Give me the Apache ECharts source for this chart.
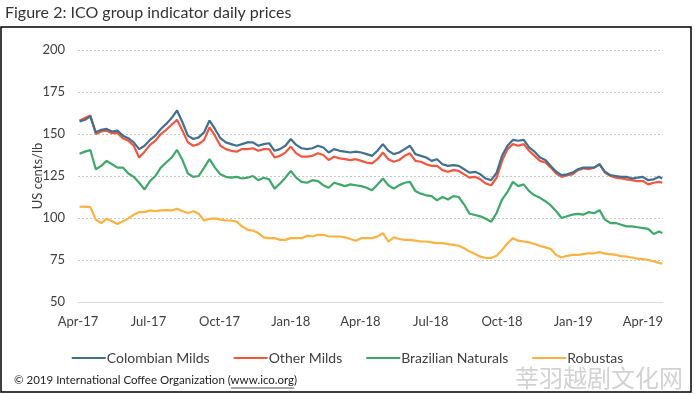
<!DOCTYPE html>
<html>
<head>
<meta charset="utf-8">
<script src="https://cdn.jsdelivr.net/npm/echarts@6/dist/echarts.min.js"></script>
<style>
html,body{margin:0;padding:0;background:#fff;}
#chart{width:695px;height:394px;}
</style>
</head>
<body>
<div id="chart"></div>
<script>
// Weekly readings (Mondays from 2017-04-03), last point 2019-04-26
const firstWeek = '2017-04-03';
const lastDay = '2019-04-26';
const seriesNames = ['Colombian Milds', 'Other Milds', 'Brazilian Naturals', 'Robustas'];
const colombianMilds = [157.5,158.5,160.5,151,152.5,153,151.5,152,149,147.5,145,141,143,146.5,149,153,156,159.5,164,157,149,147,148,151,158,153,147.5,145,144,143,144,145,145,143,144,144.5,140,141,143,147,143.5,141.5,141,141.5,143,142,139,141,140,139.5,139,139.5,139,138,137,140,144,140,138,139,141,143,138,137,136,134,135,132,131,131.5,131,129,127,127.5,126,123.5,122.5,127,137,143,146.5,146,146.5,142,139.5,136,134.5,131,127.5,125.5,126,127,129,130,130,130,132,127.5,125.5,125,124.5,124.5,123.5,124,124.5,122.5,123,124.5,123.5];
const otherMilds = [158,159.5,161,150,151.5,152,150.5,150.5,147.5,146,143,136,139.5,143.5,146,150,152.5,155.5,158.5,152,145,143,144,146.5,154,149,143,141,140,139.5,141,141,141.5,140,141,141,136,137,139,142.5,138.5,136.5,136.5,137,138.5,137.5,134.5,136.5,135.5,135,134.5,135,134,133,132.5,135,139,135,133.5,134.5,137,138.5,134,133.5,132,131,131,128.5,127.5,128.5,128,126,124,124.5,123,120.5,119.5,124,134,141,144,143,144,140,137,134,133,130,126.5,124.5,125.5,126,128.5,129.5,129,130,132,127,125,124,123.5,123,122.5,122,122,120,121,121.5,121];
const brazilianNaturals = [138.2,139.5,140.5,129,131,134,132,130,130,126.5,124.5,121,117,122,125,130,133,136,140.5,134.5,126.5,124.5,125,130,135,130,126,124.5,124,124.5,123.5,124,125,122.5,124,123,117.5,120.5,124,128,124,121.5,121,122.5,122,119.5,118,121,120,119,120,119.5,119,118,116.5,120,123.5,119.5,117.5,119.5,121,121.5,116,114.5,113.5,113,110.5,112.5,111,113,112.5,108,102.5,101.8,101,99.5,97.8,103,111,115.5,121.5,119,120,116,113.5,112,110,107.5,104,100,101,102,102.5,102,103.5,102.8,104.7,99,97,97,96,95,95,94.5,94,93.5,90.5,92,91];
const robustas = [106.7,106.8,106.5,99,97,99.5,98,96.5,98,99.8,102,103.5,103.5,104.5,104,104.5,104.7,104.5,105.5,104,103,104,102.5,98.5,99.5,99.8,99,98.5,98.5,97.8,95,93,92.5,91,88.5,88,88,87,87,88,88,88,89.5,89,90,90,89,89,89,88.5,87.5,86.5,88,88,88,89,91,86,88.5,87.5,87,87,86.5,86,86,85.5,85,85,84.5,84,83.5,82,80,78.5,77,76.2,76.2,77.5,81,85,88,86.5,86,85.5,84.5,83.3,82.5,81.5,78,76.5,77.5,78,78,78.5,79,79,79.7,78.8,78.5,78,77.3,77,76.5,75.8,75.5,75,74.2,73.3,72.8];
const tickDates = ['2017-04-01','2017-07-01','2017-10-01','2018-01-01','2018-04-01','2018-07-01','2018-10-01','2019-01-01','2019-04-01'];
const tickLabels = ['Apr-17','Jul-17','Oct-17','Jan-18','Apr-18','Jul-18','Oct-18','Jan-19','Apr-19'];
const yTicks = [50, 200, 25];
const axisMin = '2017-04-01';
const axisMax = '2019-04-27';
const colors = ['#41708f', '#f4553f', '#3fa868', '#fdb240'];
const footerPrefix = '\u00a9 2019 International Coffee Organization (';
const footerLink = 'www.ico.org';

const DAY = 86400000;
function parseDay(s){ const p = s.split('-').map(Number); return Date.UTC(p[0], p[1]-1, p[2]); }
const origin = parseDay(axisMin);
function dayNum(ts){ return Math.round((ts - origin) / DAY); }
const dates = [];
for (let i = 0; i < colombianMilds.length - 1; i++) dates.push(dayNum(parseDay(firstWeek)) + i*7);
dates.push(dayNum(parseDay(lastDay)));
const allSeries = [colombianMilds, otherMilds, brazilianNaturals, robustas];
const tickDays = tickDates.map(s => dayNum(parseDay(s)));
const font = 'Lato, "Open Sans", sans-serif';
const footFont = '11.5px ' + font;
const ctx = document.createElement('canvas').getContext('2d');
ctx.font = footFont;
const linkStart = 14 + ctx.measureText(footerPrefix).width;
const linkEnd = linkStart + ctx.measureText(footerLink).width;

const chart = echarts.init(document.getElementById('chart'), null, {renderer:'canvas'});
chart.setOption({
  animation: false,
  backgroundColor: '#fff',
  grid: {left: 78, right: 32, top: 50, bottom: 92},
  xAxis: {
    type: 'value',
    min: 0, max: dayNum(parseDay(axisMax)),
    axisLine: {show: true, lineStyle: {color: '#d9d9d9', width: 1}},
    axisTick: {show: false},
    splitLine: {show: false},
    axisLabel: {
      customValues: tickDays,
      formatter: function(v){ const i = tickDays.indexOf(v); return i >= 0 ? tickLabels[i] : ''; },
      color: '#404040', fontFamily: font, fontSize: 13, margin: 13, hideOverlap: false
    }
  },
  yAxis: {
    type: 'value', min: yTicks[0], max: yTicks[1], interval: yTicks[2],
    name: 'US cents/lb', nameLocation: 'middle', nameGap: 34, nameMoveOverlap: false,
    nameTextStyle: {color: '#404040', fontFamily: font, fontSize: 13},
    axisLine: {show: false}, axisTick: {show: false},
    axisLabel: {color: '#404040', fontFamily: font, fontSize: 13, margin: 13},
    splitLine: {lineStyle: {color: '#c8c8c8', type: [2, 2], width: 1}}
  },
  legend: {
    top: 346, left: 'center',
    icon: 'rect', itemWidth: 34, itemHeight: 2, itemGap: 24,
    textStyle: {color: '#404040', fontFamily: font, fontSize: 14, padding: [0,0,0,-4]},
    data: seriesNames
  },
  series: seriesNames.map((n, k) => ({
    name: n, type: 'line', showSymbol: false, symbol: 'none',
    lineStyle: {width: 2.2, color: colors[k]}, itemStyle: {color: colors[k]},
    data: allSeries[k].map((v, i) => [dates[i], v]),
    z: 10 - k
  })),
  graphic: [
    {type: 'text', left: 5, top: 5, style: {text: 'Figure 2: ICO group indicator daily prices', fill: '#333', font: '16px ' + font}},
    {type: 'rect', shape: {x: 1, y: 27, width: 690, height: 365}, style: {fill: 'none', stroke: '#000', lineWidth: 1.5}},
    {type: 'text', left: 14, top: 374, style: {text: footerPrefix + footerLink + ')', fill: '#222', font: footFont}},
    {type: 'line', shape: {x1: linkStart, y1: 388, x2: linkEnd, y2: 388}, style: {stroke: '#222', lineWidth: 0.8}},
    {type: 'text', left: 515, top: 366, style: {text: '莘羽越剧文化网', fill: '#d2d2d2', font: '24px "Noto Sans CJK SC"'}}
  ]
});
</script>
</body>
</html>
